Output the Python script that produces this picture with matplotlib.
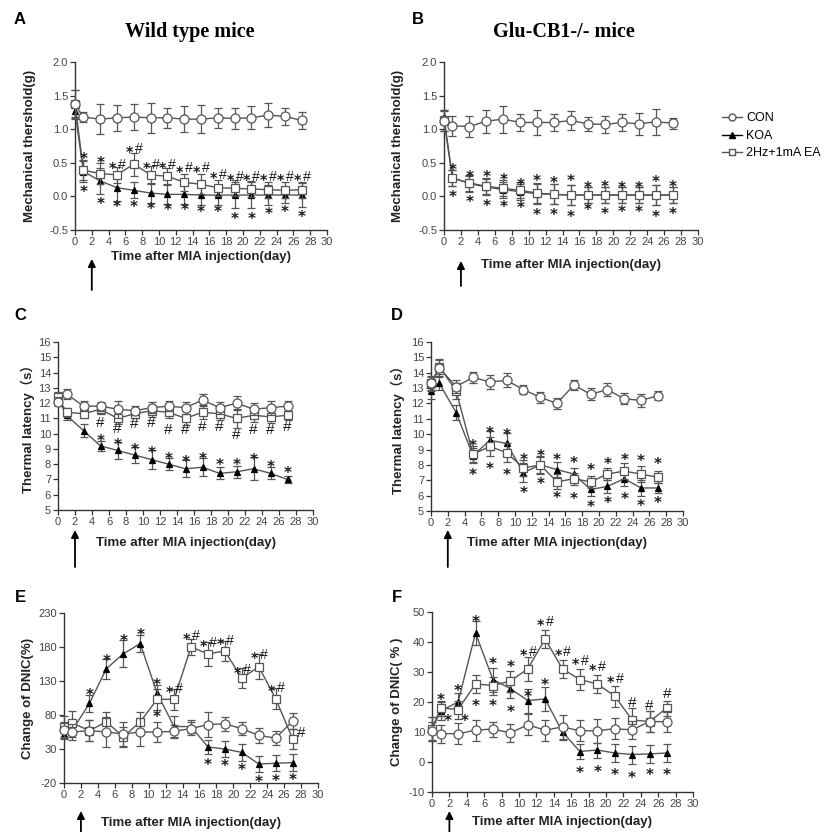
#!/usr/bin/env python3
"""
Pain behaviour time courses, wild type vs Glu-CB1-/- mice
"""

import matplotlib
matplotlib.use('Agg')
import matplotlib.pyplot as plt
import matplotlib.transforms as mtransforms
from matplotlib.lines import Line2D

plt.rcParams['font.family'] = ['Liberation Sans', 'Noto Sans CJK SC', 'DejaVu Sans']

days = [0, 1, 3, 5, 7, 9, 11, 13, 15, 17, 19, 21, 23, 25, 27]
ann_days = days[1:]

# ---- A: mechanical threshold, wild type
a_con = [1.37, 1.18, 1.15, 1.17, 1.18, 1.17, 1.17, 1.15, 1.15, 1.17, 1.16, 1.17, 1.21, 1.19, 1.13]
a_con_err = [0.22, 0.07, 0.22, 0.19, 0.19, 0.22, 0.15, 0.19, 0.21, 0.15, 0.15, 0.17, 0.18, 0.13, 0.12]
a_koa = [1.27, 0.37, 0.23, 0.13, 0.09, 0.05, 0.03, 0.03, 0.02, 0.02, 0.02, 0.02, 0.02, 0.02, 0.02]
a_koa_err = [0.10, 0.15, 0.20, 0.20, 0.12, 0.15, 0.15, 0.15, 0.15, 0.15, 0.20, 0.20, 0.15, 0.12, 0.18]
a_ea = [1.38, 0.39, 0.34, 0.32, 0.48, 0.32, 0.30, 0.21, 0.18, 0.13, 0.12, 0.11, 0.10, 0.09, 0.10]
a_ea_err = [0.20, 0.15, 0.15, 0.12, 0.17, 0.13, 0.13, 0.13, 0.15, 0.12, 0.12, 0.12, 0.12, 0.12, 0.12]
a_top_txt = ['*', '*', '*#', '*#', '*#', '*#', '*#', '*#', '*#', '*#', '*#', '*#', '*#', '*#']
a_top_y = [0.62, 0.55, 0.48, 0.72, 0.48, 0.48, 0.43, 0.43, 0.33, 0.30, 0.30, 0.30, 0.30, 0.30]
a_bot_y = [0.12, -0.05, -0.10, -0.10, -0.13, -0.15, -0.15, -0.17, -0.17, -0.28, -0.28, -0.20, -0.18, -0.25]

# ---- B: mechanical threshold, Glu-CB1-/-
b_con = [1.12, 1.05, 1.04, 1.12, 1.15, 1.10, 1.10, 1.10, 1.13, 1.08, 1.07, 1.10, 1.08, 1.11, 1.09]
b_con_err = [0.15, 0.15, 0.16, 0.17, 0.20, 0.12, 0.18, 0.12, 0.14, 0.10, 0.12, 0.12, 0.16, 0.19, 0.08]
b_koa = [1.18, 0.28, 0.19, 0.14, 0.10, 0.07, 0.04, 0.03, 0.02, 0.02, 0.02, 0.02, 0.02, 0.02, 0.02]
b_koa_err = [0.10, 0.12, 0.12, 0.12, 0.12, 0.12, 0.15, 0.15, 0.15, 0.12, 0.12, 0.12, 0.12, 0.15, 0.12]
b_ea = [1.13, 0.27, 0.20, 0.15, 0.12, 0.09, 0.05, 0.03, 0.02, 0.02, 0.02, 0.02, 0.02, 0.02, 0.02]
b_ea_err = [0.15, 0.12, 0.12, 0.12, 0.12, 0.12, 0.15, 0.15, 0.15, 0.12, 0.12, 0.12, 0.12, 0.15, 0.12]
b_top_y = [0.45, 0.35, 0.35, 0.30, 0.22, 0.28, 0.25, 0.28, 0.18, 0.20, 0.18, 0.18, 0.27, 0.20]
b_bot_y = [0.05, -0.03, -0.08, -0.10, -0.12, -0.22, -0.22, -0.25, -0.15, -0.20, -0.18, -0.18, -0.25, -0.20]

# ---- C: thermal latency, wild type
c_con = [12.1, 12.6, 11.8, 11.8, 11.6, 11.5, 11.7, 11.8, 11.7, 12.2, 11.7, 12.0, 11.6, 11.7, 11.8]
c_con_err = [0.3, 0.3, 0.35, 0.3, 0.55, 0.3, 0.35, 0.35, 0.4, 0.4, 0.4, 0.45, 0.4, 0.45, 0.35]
c_koa = [12.3, 11.2, 10.2, 9.2, 8.9, 8.6, 8.3, 8.0, 7.7, 7.8, 7.4, 7.5, 7.7, 7.4, 7.0]
c_koa_err = [0.3, 0.3, 0.45, 0.35, 0.55, 0.55, 0.6, 0.4, 0.55, 0.6, 0.4, 0.4, 0.75, 0.4, 0.2]
c_ea = [12.4, 11.4, 11.3, 11.6, 11.0, 11.3, 11.5, 11.4, 11.0, 11.4, 11.3, 11.0, 11.2, 11.1, 11.2]
c_ea_err = [0.3, 0.3, 0.3, 0.3, 0.4, 0.3, 0.4, 0.4, 0.45, 0.45, 0.4, 0.6, 0.45, 0.4, 0.3]
c_hash_days = [5, 7, 9, 11, 13, 15, 17, 19, 21, 23, 25, 27]
c_hash_y = [10.8, 10.4, 10.7, 10.8, 10.3, 10.3, 10.5, 10.5, 10.0, 10.3, 10.3, 10.5]
c_star_y = [9.8, 9.5, 9.2, 9.0, 8.6, 8.4, 8.6, 8.2, 8.2, 8.5, 8.1, 7.7]

# ---- D: thermal latency, Glu-CB1-/-
d_con = [13.3, 14.3, 13.1, 13.7, 13.4, 13.5, 12.9, 12.4, 12.0, 13.2, 12.6, 12.9, 12.3, 12.2, 12.5]
d_con_err = [0.4, 0.5, 0.4, 0.35, 0.45, 0.45, 0.3, 0.35, 0.35, 0.35, 0.4, 0.4, 0.35, 0.4, 0.3]
d_koa = [12.8, 13.3, 11.4, 8.6, 9.6, 9.4, 7.5, 8.0, 7.7, 7.4, 6.4, 6.6, 7.1, 6.5, 6.5]
d_koa_err = [0.5, 0.4, 0.5, 0.5, 0.6, 0.7, 0.6, 0.6, 0.5, 0.4, 0.4, 0.4, 0.5, 0.5, 0.3]
d_ea = [13.3, 14.4, 12.8, 8.7, 9.2, 8.8, 7.8, 8.0, 6.9, 7.1, 6.9, 7.4, 7.6, 7.4, 7.2]
d_ea_err = [0.5, 0.5, 0.5, 0.5, 0.6, 0.6, 0.5, 0.5, 0.5, 0.4, 0.4, 0.4, 0.5, 0.5, 0.4]
d_star_days = [5, 7, 9, 11, 13, 15, 17, 19, 21, 23, 25, 27]
d_top_y = [9.5, 10.3, 10.2, 8.6, 8.8, 8.6, 8.4, 7.9, 8.3, 8.6, 8.5, 8.3]
d_bot_y = [7.6, 8.0, 7.6, 6.4, 7.0, 6.1, 6.0, 5.5, 5.8, 6.0, 5.6, 5.8]

# ---- E: DNIC, wild type
e_con = [58, 55, 57, 55, 52, 55, 55, 56, 60, 66, 67, 60, 50, 46, 71]
e_con_err = [12, 12, 15, 22, 18, 20, 14, 10, 10, 18, 10, 10, 11, 10, 12]
e_koa = [52, 58, 97, 148, 170, 185, 112, 63, 63, 33, 30, 25, 8, 9, 10]
e_koa_err = [8, 10, 12, 15, 20, 12, 12, 15, 10, 10, 12, 12, 12, 12, 12]
e_ea = [63, 68, 57, 70, 48, 70, 103, 103, 180, 170, 174, 134, 151, 104, 45]
e_ea_err = [15, 18, 15, 15, 15, 15, 15, 15, 12, 18, 15, 15, 18, 15, 15]
e_ann_x = [3, 5, 7, 9, 11, 11, 13, 15, 17, 19, 21, 23, 25, 28, 17, 19, 21, 23, 25, 27]
e_ann_y = [115, 165, 195, 203, 130, 83, 120, 198, 188, 190, 148, 170, 121, 55, 12, 10, 5, -13, -12, -10]
e_ann_txt = ['*', '*', '*', '*', '*', '*', '*#', '*#', '*#', '*#', '*#', '*#', '*#', '#',
             '*', '*', '*', '*', '*', '*']

# ---- F: DNIC, Glu-CB1-/-
f_con = [10.5, 9.5, 9.4, 10.6, 11.0, 9.7, 12.4, 10.6, 11.7, 10.4, 10.4, 11.1, 10.7, 13.5, 13.4]
f_con_err = [3, 3, 3.5, 3.5, 2.5, 3, 3.5, 3.5, 4, 3.5, 4, 3.5, 3, 3.5, 3.5]
f_koa = [11, 17, 20, 43, 27.5, 24.5, 20.5, 21, 10, 3.5, 4, 3, 2.5, 2.7, 3]
f_koa_err = [4, 3, 3, 4, 4, 3, 4, 4, 2.5, 2.5, 2.5, 3, 3, 3, 3]
f_ea = [11, 18, 17.5, 26, 25.5, 27, 31, 41, 31, 27.5, 26, 22, 14, 13.5, 18]
f_ea_err = [4, 2.5, 3, 3, 3, 3.5, 4, 3, 3, 3.5, 3, 3.5, 4, 3.5, 2.5]
f_ann_x = [1, 1.8, 3, 3.8, 5, 5, 7, 7, 9, 9, 11, 11, 13, 13, 15, 17, 19, 21, 23, 25, 27,
           17, 19, 21, 23, 25, 27]
f_ann_y = [22, 15, 25, 15, 48, 20, 34, 20, 33, 18, 37, 23, 47, 27, 37, 34, 32, 28, 20, 19, 23,
           -2.5, -2, -3, -4, -3, -3]
f_ann_txt = ['*', '*', '*', '*', '*', '*', '*', '*', '*', '*', '*#', '*', '*#', '*', '*#', '*#',
             '*#', '*#', '#', '#', '#', '*', '*', '*', '*', '*', '*']

LINE = '#555555'
AXC = '#333333'
W = H = 832.0


def px_rect(left, top, right, bottom):
    return [left / W, 1 - bottom / H, (right - left) / W, (bottom - top) / H]


def draw_panel(ax, series, ylim, yticks, fmt):
    con, con_err, koa, koa_err, ea, ea_err = series
    kw = dict(ecolor=LINE, elinewidth=0.9, capsize=3, capthick=0.9, color=LINE, lw=1.0, clip_on=False)
    for y, e, m, fc, ms, z in [(koa, koa_err, '^', 'black', 4.5, 3),
                               (ea, ea_err, 's', 'white', 5.5, 4),
                               (con, con_err, 'o', 'white', 6.5, 5)]:
        eb = ax.errorbar(days, y, yerr=e, fmt='-', marker=m, mfc=fc, mec=LINE if fc == 'white' else 'black',
                         mew=0.9, ms=ms, zorder=z, **kw)
        for art in eb.lines[1] + eb.lines[2]:
            art.set_clip_on(False)
    ax.set_xlim(0, 30)
    ax.set_ylim(*ylim)
    ax.set_xticks(range(0, 31, 2))
    ax.set_yticks(yticks)
    ax.set_yticklabels([fmt % v for v in yticks])
    for s in ['top', 'right']:
        ax.spines[s].set_visible(False)
    for s in ['left', 'bottom']:
        ax.spines[s].set_color(AXC)
        ax.spines[s].set_linewidth(1.0)
    ax.tick_params(direction='out', length=3.5, width=0.9, color=AXC, labelsize=8,
                   labelcolor='#444444', pad=1.5)


def _mark(ax, x, y, glyph, size, dx):
    fig = ax.figure
    if glyph == '*':
        fam, wt, k = 'DejaVu Sans', 'bold', 0.58
    else:
        fam, wt, k = 'Liberation Sans', 'normal', 0.35
    tr = mtransforms.offset_copy(ax.transData, fig, x=dx, y=-k * size, units='points')
    ax.text(x, y, glyph, transform=tr, ha='center', va='baseline', fontsize=size,
            family=fam, fontweight=wt, color='#1a1a1a', clip_on=False, zorder=6)


def stars(ax, xs, ys, txts, size=11):
    for x, y, t in zip(xs, ys, txts):
        if t == '*#':
            s = size - 0.8
            _mark(ax, x, y, '*', s, -0.32 * s)
            _mark(ax, x, y, '#', s, 0.34 * s)
        else:
            _mark(ax, x, y, t, size, 0)


def labels(ax, ylabel, ylab_px, xlab_px, arrow_px):
    fig = ax.figure
    ax.set_ylabel(ylabel, fontsize=9.5, fontweight='bold', color='#222222')
    ax.yaxis.label.set_va('center')
    ax.yaxis.set_label_coords(ylab_px / W, 0.5,
                              transform=mtransforms.blended_transform_factory(fig.transFigure, ax.transAxes))
    ax.set_xlabel('Time after MIA injection(day)', fontsize=9.5, fontweight='bold', color='#222222')
    ax.xaxis.label.set_va('center')
    ax.xaxis.set_label_coords(0.5, 1 - xlab_px / H,
                              transform=mtransforms.blended_transform_factory(ax.transAxes, fig.transFigure))
    tr = mtransforms.blended_transform_factory(ax.transData, fig.transFigure)
    ax.annotate('', xy=(2, 1 - arrow_px[0] / H), xytext=(2, 1 - arrow_px[1] / H),
                xycoords=tr, textcoords=tr, annotation_clip=False,
                arrowprops=dict(arrowstyle='-|>', color='black', lw=1.3, mutation_scale=11,
                                shrinkA=0, shrinkB=0))


def main():
    fig = plt.figure(figsize=(8.32, 8.32), dpi=100)

    ax_a = fig.add_axes(px_rect(75, 62, 327, 230))
    ax_b = fig.add_axes(px_rect(444, 62, 698, 230))
    ax_c = fig.add_axes(px_rect(58, 342, 313, 510))
    ax_d = fig.add_axes(px_rect(431, 342, 683, 511))
    ax_e = fig.add_axes(px_rect(64, 613, 318, 783))
    ax_f = fig.add_axes(px_rect(432, 612, 693, 792))

    mech_ticks = [-0.5, 0.0, 0.5, 1.0, 1.5, 2.0]
    draw_panel(ax_a, (a_con, a_con_err, a_koa, a_koa_err, a_ea, a_ea_err), (-0.5, 2.0), mech_ticks, '%.1f')
    draw_panel(ax_b, (b_con, b_con_err, b_koa, b_koa_err, b_ea, b_ea_err), (-0.5, 2.0), mech_ticks, '%.1f')
    therm_ticks = list(range(5, 17))
    draw_panel(ax_c, (c_con, c_con_err, c_koa, c_koa_err, c_ea, c_ea_err), (5, 16), therm_ticks, '%d')
    draw_panel(ax_d, (d_con, d_con_err, d_koa, d_koa_err, d_ea, d_ea_err), (5, 16), therm_ticks, '%d')
    draw_panel(ax_e, (e_con, e_con_err, e_koa, e_koa_err, e_ea, e_ea_err), (-20, 230),
               [-20, 30, 80, 130, 180, 230], '%d')
    draw_panel(ax_f, (f_con, f_con_err, f_koa, f_koa_err, f_ea, f_ea_err), (-10, 50),
               [-10, 0, 10, 20, 30, 40, 50], '%d')

    # significance marks
    stars(ax_a, ann_days, a_top_y, a_top_txt)
    stars(ax_a, ann_days, a_bot_y, ['*'] * len(ann_days))
    stars(ax_b, ann_days, b_top_y, ['*'] * len(ann_days))
    stars(ax_b, ann_days, b_bot_y, ['*'] * len(ann_days))
    stars(ax_c, c_hash_days, c_hash_y, ['#'] * len(c_hash_days))
    stars(ax_c, c_hash_days, c_star_y, ['*'] * len(c_hash_days))
    stars(ax_d, d_star_days, d_top_y, ['*'] * len(d_star_days))
    stars(ax_d, d_star_days, d_bot_y, ['*'] * len(d_star_days))
    stars(ax_e, e_ann_x, e_ann_y, e_ann_txt)
    stars(ax_f, f_ann_x, f_ann_y, f_ann_txt)

    labels(ax_a, 'Mechanical thershold(g)', 30, 257, (259, 290))
    labels(ax_b, 'Mechanical thershold(g)', 398, 265, (261, 286))
    labels(ax_c, 'Thermal latency（s）', 28, 543, (530, 567))
    labels(ax_d, 'Thermal latency（s）', 398, 543, (530, 567))
    labels(ax_e, 'Change of DNIC(%)', 28, 823, (811, 840))
    labels(ax_f, 'Change of DNIC( % )', 397, 822, (811, 840))

    for letter, x, y in [('A', 20, 19), ('B', 418, 19), ('C', 20, 316), ('D', 397, 316),
                         ('E', 20, 597), ('F', 397, 597)]:
        fig.text(x / W, 1 - y / H, letter, fontsize=12, fontweight='bold', ha='center', va='center')

    fig.text(190 / W, 1 - 32 / H, 'Wild type mice', family='Liberation Serif', fontweight='bold',
             fontsize=14.5, ha='center', va='center')
    fig.text(564 / W, 1 - 32 / H, 'Glu-CB1-/- mice', family='Liberation Serif', fontweight='bold',
             fontsize=14.5, ha='center', va='center')

    handles = [Line2D([], [], color=LINE, lw=1, marker='o', mfc='white', mec=LINE, ms=5),
               Line2D([], [], color='black', lw=1, marker='^', mfc='black', mec='black', ms=4.5),
               Line2D([], [], color=LINE, lw=1, marker='s', mfc='white', mec=LINE, ms=4.5)]
    fig.legend(handles, ['CON', 'KOA', '2Hz+1mA EA'], loc='upper left',
               bbox_to_anchor=(716 / W, 1 - 106 / H), frameon=False, fontsize=9,
               handlelength=1.6, handletextpad=0.3, labelspacing=0.45, borderpad=0)

    fig.savefig('out.png', dpi=100)


if __name__ == '__main__':
    main()
